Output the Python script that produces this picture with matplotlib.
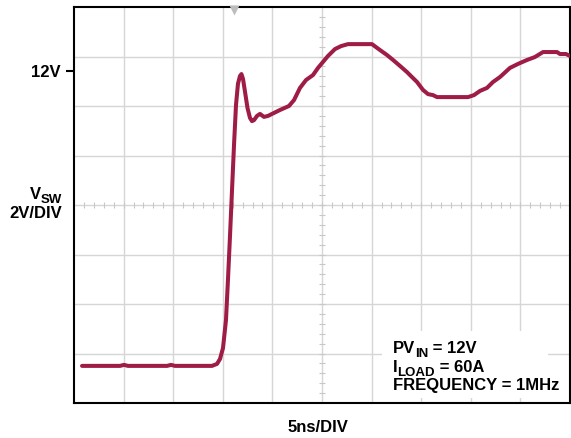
import matplotlib
matplotlib.use("Agg")
import matplotlib.pyplot as plt
import matplotlib.patches as mpatches
import numpy as np

# waveform read from the scope shot: time (ns) and switch-node voltage (V)
t_ns = [0.81, 4.64, 5.04, 5.44, 9.38, 9.78, 10.18, 13.91, 14.42, 14.72, 15.02,
        15.32, 15.52, 15.73, 15.93, 16.13, 16.33, 16.53, 16.73, 16.88, 17.04,
        17.24, 17.49, 17.74, 17.94, 18.15, 18.45, 18.75, 19.15, 19.56, 19.96, 20.77,
        21.67, 22.18, 22.78, 23.39, 24.09, 24.6, 25.1, 25.6, 26.31, 26.92,
        27.62, 30.04, 30.44, 30.85, 31.55, 32.16, 32.86, 33.57, 34.07, 34.58,
        35.18, 35.69, 36.19, 36.59, 39.72, 40.32, 40.93, 41.63, 42.24, 42.94,
        43.95, 44.76, 45.67, 46.47, 47.28, 48.69, 48.99, 49.6, 50.0]
v_sw = [0.1, 0.1, 0.14, 0.1, 0.1, 0.14, 0.1, 0.1, 0.18, 0.38, 0.82,
        1.95, 3.57, 5.39, 7.21, 9.02, 10.64, 11.5, 11.81, 11.89, 11.69,
        11.17, 10.52, 10.12, 9.99, 10.03, 10.2, 10.28, 10.16, 10.2, 10.28, 10.44,
        10.6, 10.84, 11.33, 11.65, 11.85, 12.14, 12.38, 12.62, 12.9, 13.02,
        13.1, 13.1, 12.98, 12.86, 12.66, 12.46, 12.22, 11.97, 11.77, 11.57,
        11.25, 11.08, 11.04, 10.96, 10.96, 11.04, 11.21, 11.33, 11.57, 11.77,
        12.14, 12.3, 12.46, 12.58, 12.78, 12.78, 12.7, 12.7, 12.62]

y_tick_vals = [12]
y_tick_labels = ["12V"]
trigger_ns = 16.1

# test conditions: (main, subscript, rest)
notes = [("PV", "IN", " = 12V"),
         ("I", "LOAD", " = 60A"),
         ("FREQUENCY = 1MHz", "", "")]

plt.rcParams["font.family"] = ["Liberation Sans", "DejaVu Sans"]
plt.rcParams["font.weight"] = "bold"

LINE = "#9e1c45"
GRID = "#d6d6d6"
FS = 12
FS_SUB = 9.5

W, H = 571, 438
fig = plt.figure(figsize=(W / 100, H / 100), dpi=100)
ax = fig.add_axes([74 / W, 35 / H, 496 / W, 396 / H])
renderer = fig.canvas.get_renderer()

x0, x1 = 0, 50
y0, y1 = -1.4, 14.6
ax.set_xlim(x0, x1)
ax.set_ylim(y0, y1)

# ── scope graticule ────────────────────────────────────────────────────────────
for xv in np.arange(5, 50, 5):
    ax.axvline(xv, color=GRID, lw=1.0, zorder=1)
for yv in np.arange(y0 + 2, y1 - 0.1, 2):
    ax.axhline(yv, color=GRID, lw=1.0, zorder=1)

xc, yc = 25, y0 + 8
ax.vlines(np.arange(1, 50, 1), yc - 0.14, yc + 0.14, color="#c8c8c8", lw=0.8, zorder=1)
ax.hlines(np.arange(y0 + 0.4, y1, 0.4), xc - 0.35, xc + 0.35, color="#c8c8c8", lw=0.8, zorder=1)

# white patch behind the test conditions
ax.add_patch(mpatches.Rectangle((31.0, y0 + 0.2), 16.8, 2.7, facecolor="white",
                                edgecolor="none", zorder=1.5))

# ── trace ─────────────────────────────────────────────────────────────────────
ax.plot(t_ns, v_sw, color=LINE, lw=2.9, solid_joinstyle="round",
        solid_capstyle="round", zorder=3)

# trigger marker
ax.plot([trigger_ns], [y1 - 0.13], marker="v", ms=7, color="#bdbdbd",
        mec="none", clip_on=False, zorder=4)

for s in ax.spines.values():
    s.set_linewidth(1.5)
    s.set_color("black")

ax.set_xticks([])
ax.set_yticks(y_tick_vals)
ax.set_yticklabels(y_tick_labels, fontsize=FS, fontweight="bold")
ax.tick_params(axis="y", direction="out", length=5.5, width=1.5, pad=4)


def sub_text(px, py, main, sub, rest):
    """Write main + subscript + rest left-to-right, baseline at pixel (px, py)."""
    x = px
    t = fig.text(x / W, 1 - py / H, main, fontsize=FS, fontweight="bold",
                 ha="left", va="baseline")
    x += t.get_window_extent(renderer).width
    if sub:
        t = fig.text(x / W, 1 - (py + 4) / H, sub, fontsize=FS_SUB,
                     fontweight="bold", ha="left", va="baseline")
        x += t.get_window_extent(renderer).width
    if rest:
        fig.text(x / W, 1 - py / H, rest, fontsize=FS, fontweight="bold",
                 ha="left", va="baseline")


# ── labels ────────────────────────────────────────────────────────────────────
sub_text(30, 199, "V", "SW", "")
fig.text(62 / W, 1 - 218 / H, "2V/DIV", ha="right", va="baseline",
         fontsize=FS, fontweight="bold")
fig.text(318 / W, 1 - 428 / H, "5ns/DIV", ha="center", va="center",
         fontsize=FS, fontweight="bold")

for i, (m, s, r) in enumerate(notes):
    sub_text(393, 353 + 18.5 * i, m, s, r)

fig.savefig("out.png", dpi=100, facecolor="white")
